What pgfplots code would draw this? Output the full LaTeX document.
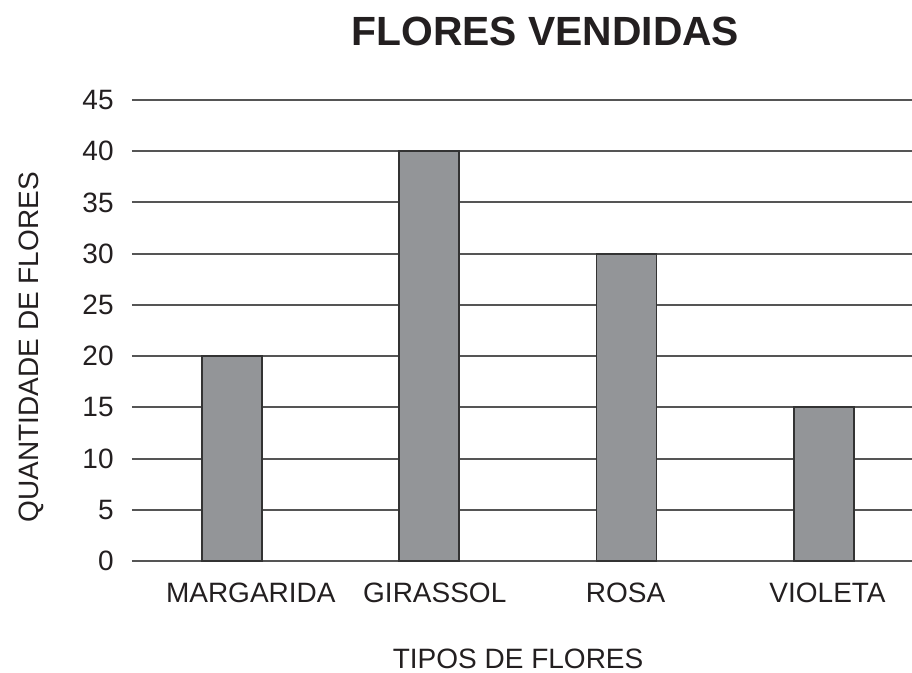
\documentclass[border=0pt]{standalone}
\usepackage{fontspec}
\setmainfont{Liberation Sans}
\usepackage{pgfplots}
\pgfplotsset{compat=1.18}
\definecolor{barfill}{HTML}{939598}
\definecolor{baredge}{HTML}{333333}
\definecolor{gridc}{HTML}{555555}
\definecolor{txt}{HTML}{231F20}
\begin{document}
\begin{tikzpicture}
\begin{axis}[
  at={(66pt,56pt)}, anchor=south west,
  scale only axis,
  width=390pt, height=230.5pt,
  xmin=-0.506, xmax=3.446,
  ymin=0, ymax=45,
  ytick={0,5,...,45},
  xtick={0.096,1.028,1.995,3.018},
  xticklabels={MARGARIDA,GIRASSOL,ROSA,VIOLETA},
  axis line style={draw=none},
  major tick length=0pt,
  ymajorgrids,
  grid style={draw=gridc, line width=1pt},
  /pgf/number format/assume math mode=true,
  ticklabel style={font=\fontsize{14}{16}\selectfont, text=txt},
  yticklabel style={anchor=east, inner sep=0pt, xshift=-9pt},
  xticklabel style={anchor=north, inner sep=0pt, yshift=-11pt},
  title={\textbf{FLORES VENDIDAS}},
  title style={at={(axis description cs:0.530,1.1226)}, anchor=center, inner sep=0pt, font=\fontsize{20.4}{23}\selectfont, text=txt},
  xlabel={TIPOS DE FLORES},
  xlabel style={at={(axis description cs:0.495,-0.2126)}, anchor=center, inner sep=0pt, font=\fontsize{14}{16}\selectfont, text=txt},
  ylabel={QUANTIDADE DE FLORES},
  ylabel style={at={(axis description cs:-0.1295,0.464)}, anchor=center, rotate=0, inner sep=0pt, font=\fontsize{14}{16}\selectfont, text=txt},
  clip=false,
]
\addplot[ybar, bar width=30pt, fill=barfill, draw=baredge, line width=0.85pt]
  coordinates {(0,20) (1,40) (2,30) (3,15)};
\end{axis}
\pgfresetboundingbox
\path (0,0) rectangle (456pt,336.5pt);
\end{tikzpicture}
\end{document}
